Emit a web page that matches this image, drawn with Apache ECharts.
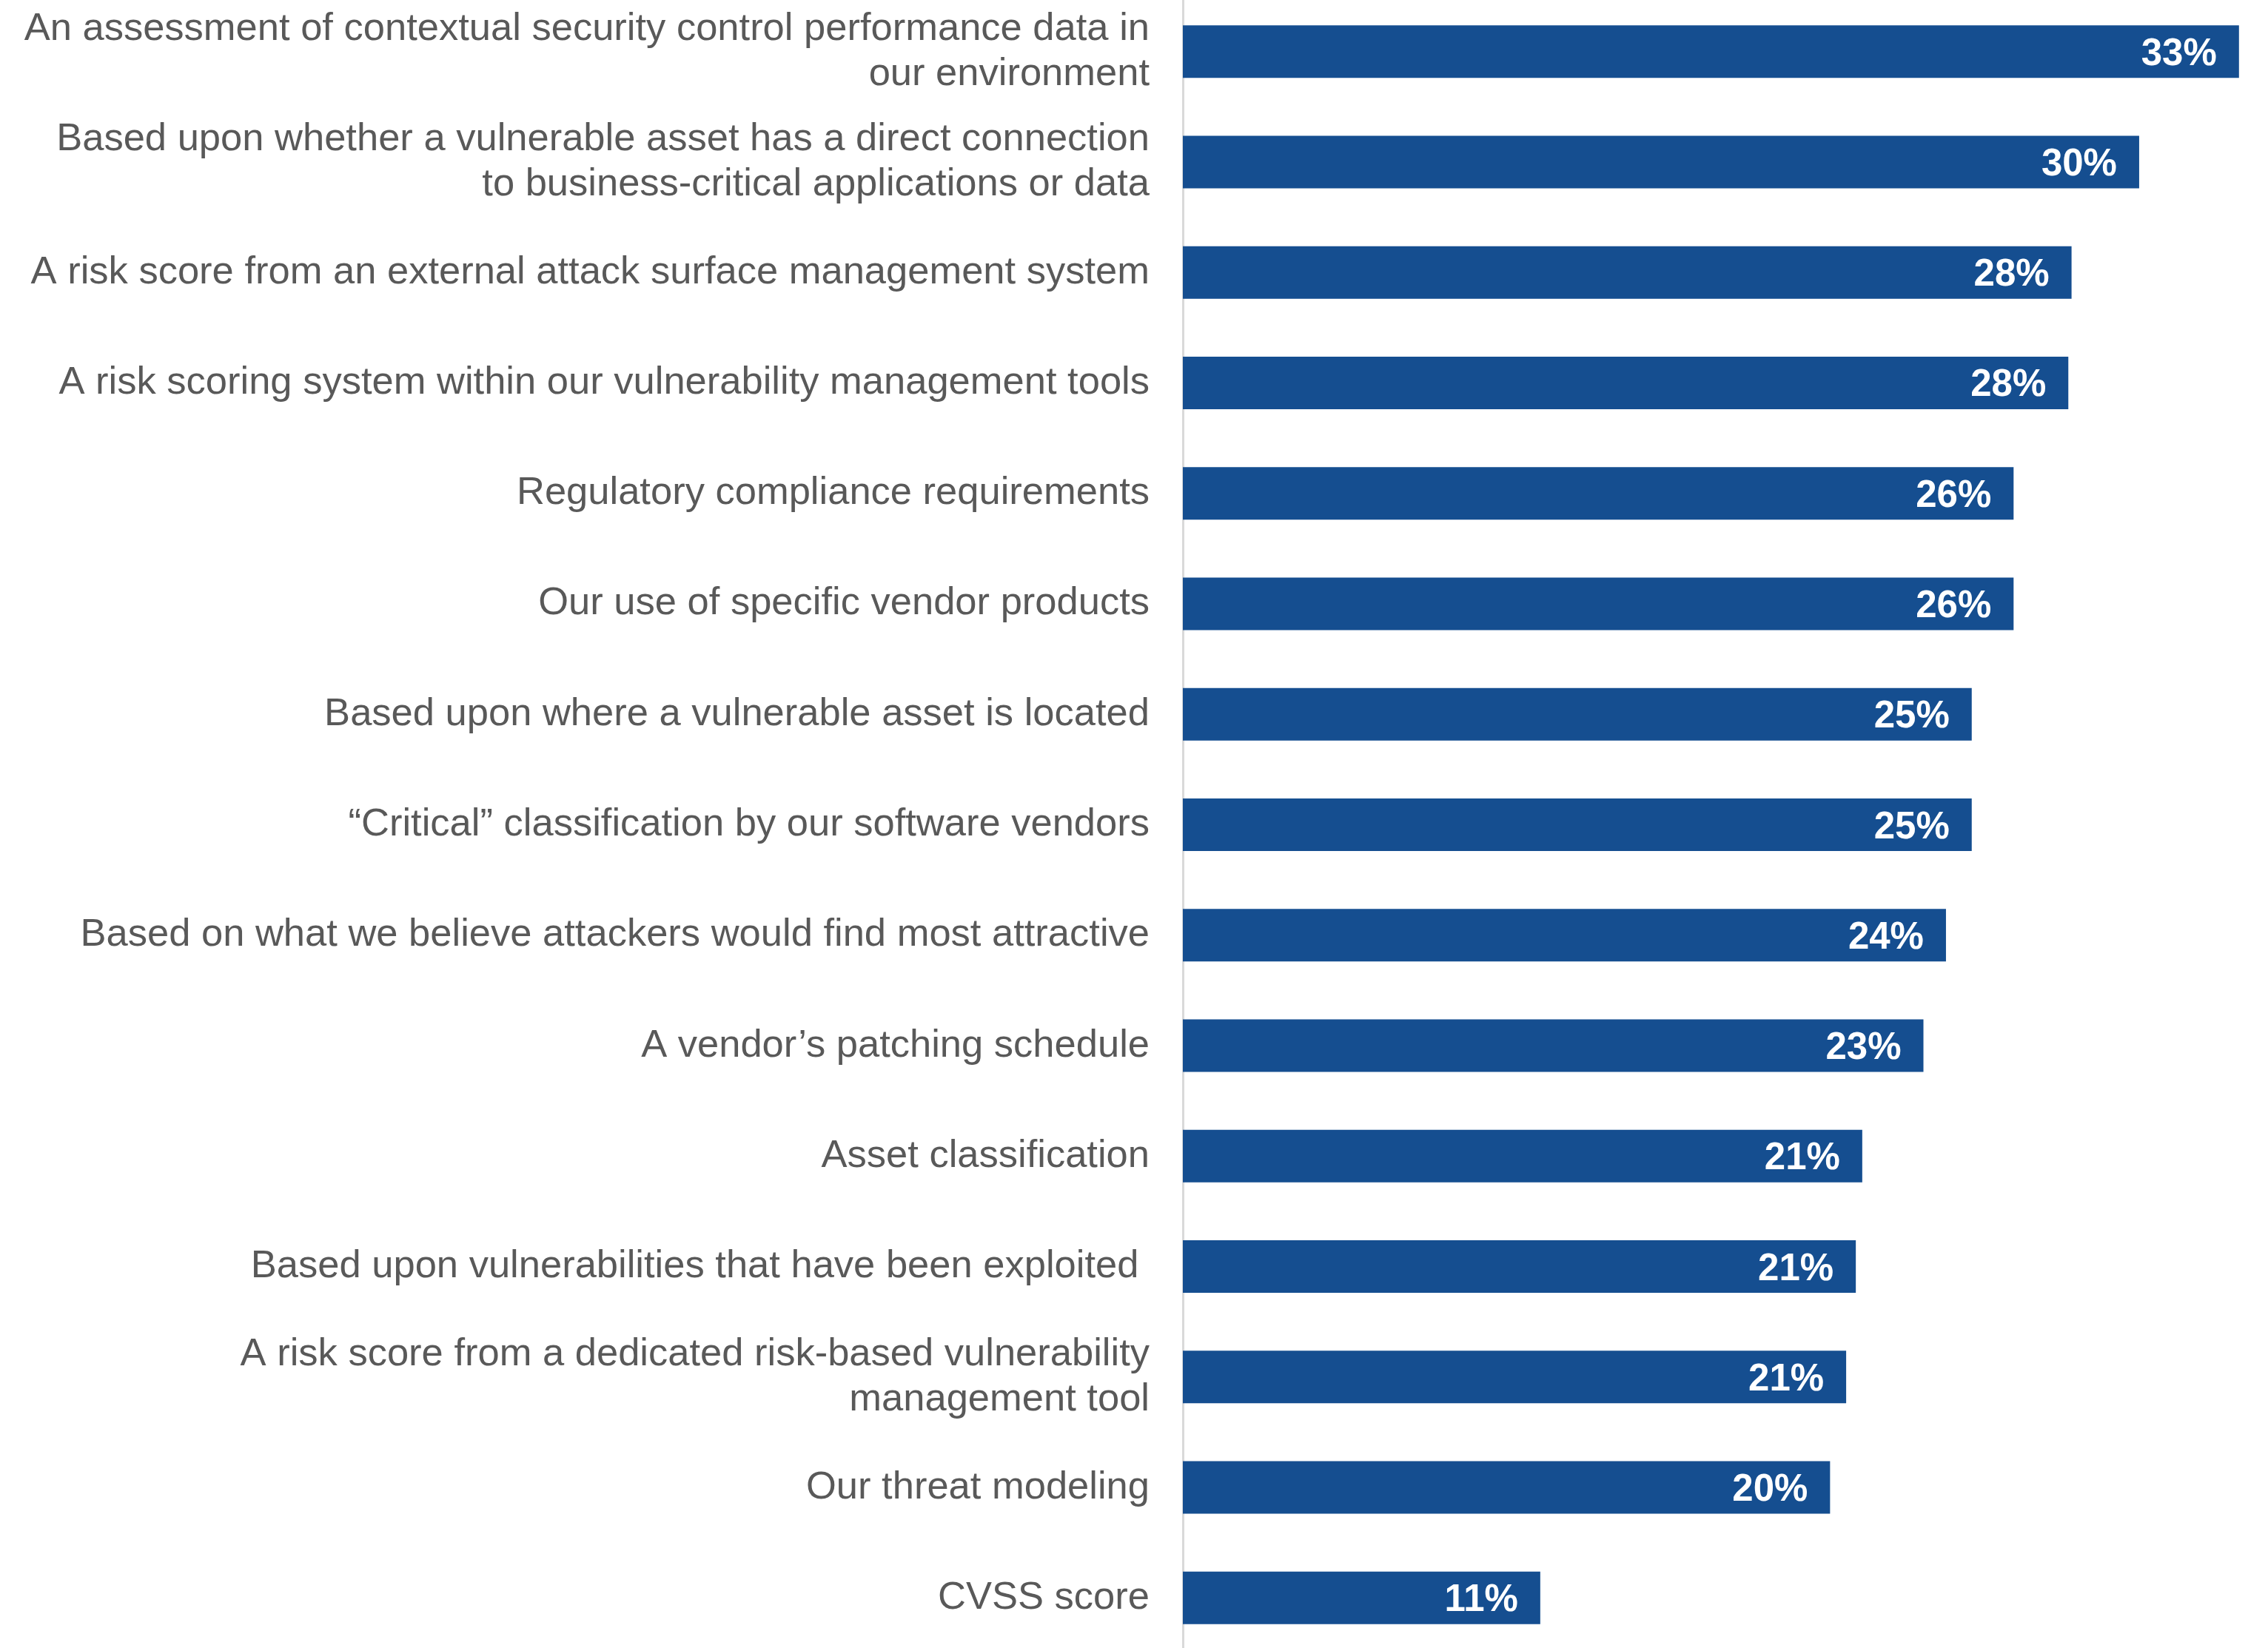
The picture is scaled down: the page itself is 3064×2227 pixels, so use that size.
<!DOCTYPE html>
<html>
<head>
<meta charset="utf-8">
<style>
  html, body { margin: 0; padding: 0; background: #ffffff; }
  #chart { width: 3064px; height: 2227px; }
</style>
<script src="https://cdn.jsdelivr.net/npm/echarts@6/dist/echarts.min.js"></script>
</head>
<body>
<div id="chart"></div>
<script>
// Survey answers, top to bottom
const categories = [
  'An assessment of contextual security control performance data in\nour environment',
  'Based upon whether a vulnerable asset has a direct connection\nto business-critical applications or data',
  'A risk score from an external attack surface management system',
  'A risk scoring system within our vulnerability management tools',
  'Regulatory compliance requirements',
  'Our use of specific vendor products',
  'Based upon where a vulnerable asset is located',
  '\u201cCritical\u201d classification by our software vendors',
  'Based on what we believe attackers would find most attractive',
  'A vendor\u2019s patching schedule',
  'Asset classification',
  'Based upon vulnerabilities that have been exploited ',
  'A risk score from a dedicated risk-based vulnerability\nmanagement tool',
  'Our threat modeling',
  'CVSS score'
];

// Share of respondents (%), shown rounded to whole percent
const shares = [32.8, 29.7, 27.6, 27.5, 25.8, 25.8, 24.5, 24.5, 23.7, 23.0, 21.1, 20.9, 20.6, 20.1, 11.1];

const FONT = '"Liberation Sans", Arial, Helvetica, sans-serif';

const chart = echarts.init(document.getElementById('chart'), null, { renderer: 'canvas' });

chart.setOption({
  backgroundColor: '#ffffff',
  animation: false,
  grid: {
    left: 1598,
    right: 30.5,
    top: -5,
    bottom: -7,
    containLabel: false,
    outerBoundsMode: 'none'
  },
  xAxis: {
    type: 'value',
    min: 0,
    max: 33,
    show: false,
    splitLine: { show: false }
  },
  yAxis: {
    type: 'category',
    inverse: true,
    data: categories,
    axisTick: { show: false },
    axisLine: { show: true, lineStyle: { color: '#d9d9d9', width: 3 } },
    axisLabel: {
      margin: 45,
      color: '#595959',
      fontFamily: FONT,
      fontSize: 52.5,
      lineHeight: 61,
      align: 'right',
      padding: [5, 0, 0, 0]
    }
  },
  series: [{
    type: 'bar',
    data: shares,
    barWidth: 71,
    itemStyle: { color: '#154e90' },
    label: {
      show: true,
      position: 'insideRight',
      distance: 30,
      offset: [0, 4],
      color: '#ffffff',
      fontFamily: FONT,
      fontWeight: 'bold',
      fontSize: 51,
      formatter: p => Math.round(p.value) + '%'
    }
  }]
});
</script>
</body>
</html>
